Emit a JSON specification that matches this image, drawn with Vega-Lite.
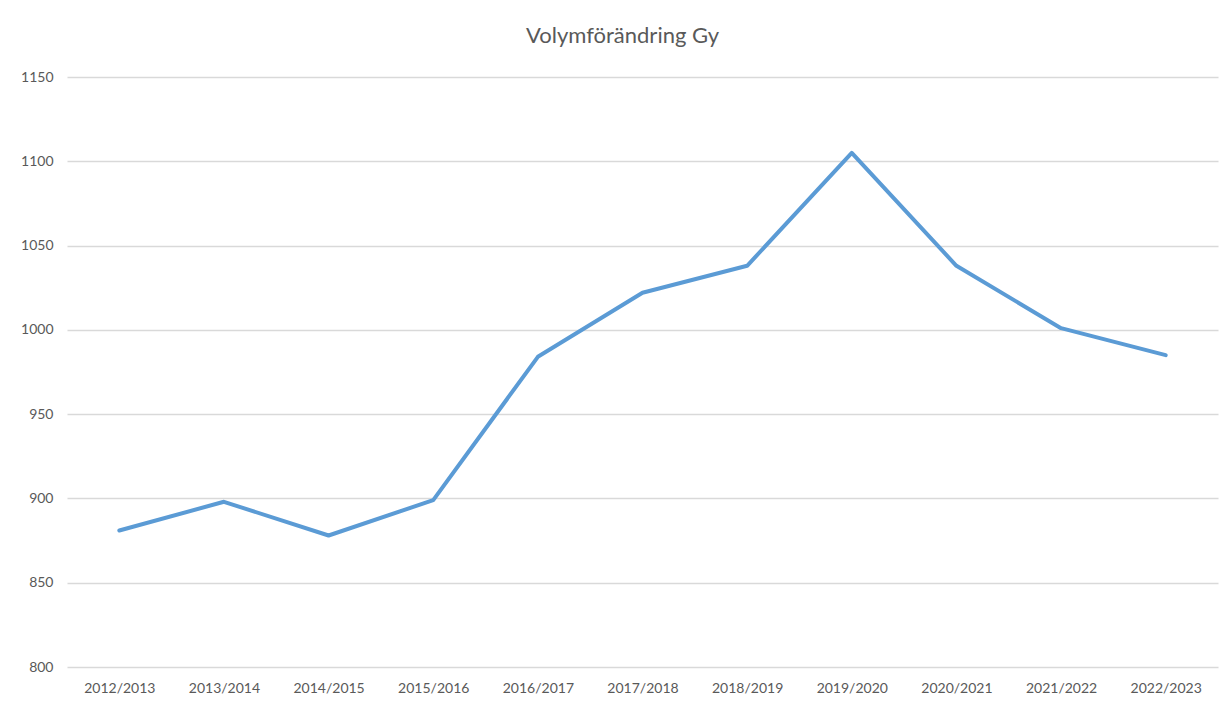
{
  "$schema": "https://vega.github.io/schema/vega-lite/v6.json",
  "autosize": {"type": "none"},
  "width": 1151,
  "height": 590,
  "padding": {"left": 67, "top": 77, "right": 7, "bottom": 35},
  "background": "white",
  "title": {
    "text": "Volymförändring Gy",
    "anchor": "middle",
    "frame": "group",
    "dx": -20,
    "offset": 22,
    "font": "Lato",
    "fontSize": 22,
    "fontWeight": "normal",
    "color": "#595959"
  },
  "data": {
    "values": [
      {"year": "2012/2013", "value": 881},
      {"year": "2013/2014", "value": 898},
      {"year": "2014/2015", "value": 878},
      {"year": "2015/2016", "value": 899},
      {"year": "2016/2017", "value": 984},
      {"year": "2017/2018", "value": 1022},
      {"year": "2018/2019", "value": 1038},
      {"year": "2019/2020", "value": 1105},
      {"year": "2020/2021", "value": 1038},
      {"year": "2021/2022", "value": 1001},
      {"year": "2022/2023", "value": 985}
    ]
  },
  "mark": {"type": "line", "color": "#5B9BD5", "strokeWidth": 4, "strokeJoin": "round", "strokeCap": "round"},
  "encoding": {
    "x": {
      "field": "year",
      "type": "ordinal",
      "sort": null,
      "scale": {"type": "point", "padding": 0.5},
      "axis": {
        "title": null,
        "labelAngle": 0,
        "ticks": false,
        "domain": false,
        "grid": false,
        "labelPadding": 14,
        "labelFont": "Lato",
        "labelFontSize": 14,
        "labelColor": "#595959"
      }
    },
    "y": {
      "field": "value",
      "type": "quantitative",
      "scale": {"domain": [800, 1150], "nice": false, "zero": false},
      "axis": {
        "title": null,
        "format": "d",
        "values": [800, 850, 900, 950, 1000, 1050, 1100, 1150],
        "ticks": false,
        "domain": false,
        "grid": true,
        "gridColor": "#d9d9d9",
        "gridWidth": 1.3,
        "labelPadding": 14,
        "labelFont": "Lato",
        "labelFontSize": 14,
        "labelColor": "#595959"
      }
    }
  },
  "config": {"view": {"stroke": null}}
}
